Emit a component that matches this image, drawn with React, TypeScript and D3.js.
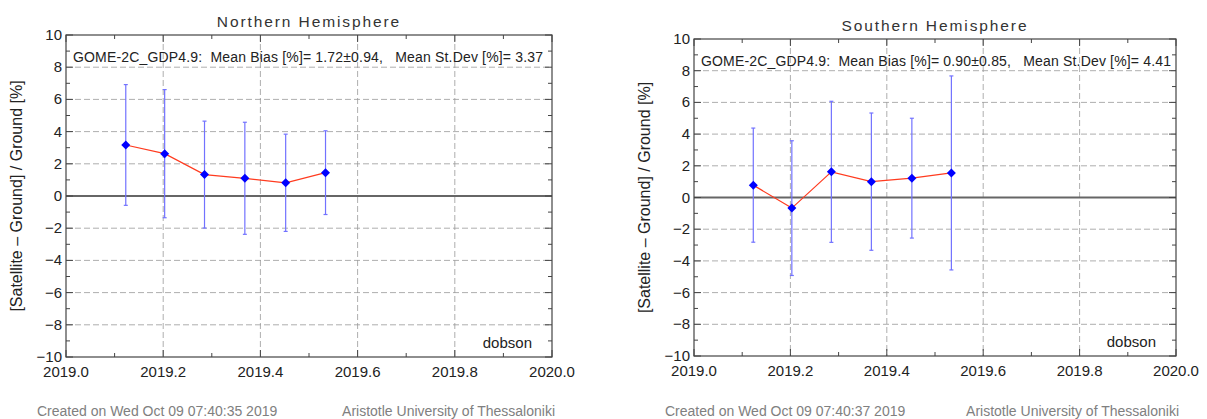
import React from 'react';
import * as d3 from 'd3';

// Monthly mean dates (decimal years)
const dates = [2019.123, 2019.203, 2019.285, 2019.368, 2019.452, 2019.534];

// Northern hemisphere: mean bias and 1-sigma per month
const northBias = [3.17, 2.63, 1.33, 1.1, 0.82, 1.45];
const northStd = [3.75, 3.98, 3.32, 3.48, 3.02, 2.6];

// Southern hemisphere
const southBias = [0.78, -0.67, 1.62, 1.0, 1.22, 1.55];
const southStd = [3.6, 4.25, 4.45, 4.33, 3.78, 6.12];

const xTicks = [2019.0, 2019.2, 2019.4, 2019.6, 2019.8, 2020.0];
const xMinor = [2019.1, 2019.3, 2019.5, 2019.7, 2019.9];
const yTicks = [-10, -8, -6, -4, -2, 0, 2, 4, 6, 8, 10];
const yMinor = [-9, -7, -5, -3, -1, 1, 3, 5, 7, 9];

const FONT = 'Liberation Sans, Arial, Helvetica, sans-serif';

interface PanelProps {
  title: string;
  stats: string;
  created: string;
  bias: number[];
  std: number[];
  box: { left: number; top: number; right: number; bottom: number };
}

const Panel: React.FC<PanelProps> = ({ title, stats, created, bias, std, box }) => {
  const x = d3.scaleLinear().domain([2019.0, 2020.0]).range([box.left, box.right]);
  const y = d3.scaleLinear().domain([-10, 10]).range([box.bottom, box.top]);
  const pts = dates.map((d, i) => ({ d, v: bias[i], s: std[i] }));
  const line = d3.line<{ d: number; v: number }>().x(p => x(p.d)).y(p => y(p.v));
  const cx = (box.left + box.right) / 2;
  const cy = (box.top + box.bottom) / 2;

  return (
    <g fontFamily={FONT}>
      <text x={cx} y={box.top - 8} textAnchor="middle" fontSize={15.5} fill="#333" letterSpacing={1.9}>
        {title}
      </text>

      {/* grid */}
      {xTicks.slice(1, -1).map(t => (
        <line key={'gx' + t} x1={x(t)} x2={x(t)} y1={box.top} y2={box.bottom}
          stroke="#999" strokeWidth={0.8} strokeDasharray="6,3" />
      ))}
      {yTicks.slice(1, -1).filter(t => t !== 0).map(t => (
        <line key={'gy' + t} x1={box.left} x2={box.right} y1={y(t)} y2={y(t)}
          stroke="#999" strokeWidth={0.8} strokeDasharray="6,3" />
      ))}
      <line x1={box.left} x2={box.right} y1={y(0)} y2={y(0)} stroke="#666" strokeWidth={2} />

      {/* ticks on all sides */}
      {xTicks.map(t => (
        <g key={'tx' + t} stroke="#444" strokeWidth={1}>
          <line x1={x(t)} x2={x(t)} y1={box.bottom} y2={box.bottom - 7} />
          <line x1={x(t)} x2={x(t)} y1={box.top} y2={box.top + 7} />
        </g>
      ))}
      {xMinor.map(t => (
        <g key={'mx' + t} stroke="#444" strokeWidth={1}>
          <line x1={x(t)} x2={x(t)} y1={box.bottom} y2={box.bottom - 4} />
          <line x1={x(t)} x2={x(t)} y1={box.top} y2={box.top + 4} />
        </g>
      ))}
      {yTicks.map(t => (
        <g key={'ty' + t} stroke="#444" strokeWidth={1}>
          <line x1={box.left} x2={box.left + 7} y1={y(t)} y2={y(t)} />
          <line x1={box.right} x2={box.right - 7} y1={y(t)} y2={y(t)} />
        </g>
      ))}
      {yMinor.map(t => (
        <g key={'my' + t} stroke="#444" strokeWidth={1}>
          <line x1={box.left} x2={box.left + 4} y1={y(t)} y2={y(t)} />
          <line x1={box.right} x2={box.right - 4} y1={y(t)} y2={y(t)} />
        </g>
      ))}
      <rect x={box.left} y={box.top} width={box.right - box.left} height={box.bottom - box.top}
        fill="none" stroke="#444" strokeWidth={1.2} />

      {/* tick labels */}
      {xTicks.map(t => (
        <text key={'lx' + t} x={x(t)} y={box.bottom + 20} textAnchor="middle" fontSize={15} fill="#222">
          {t.toFixed(1)}
        </text>
      ))}
      {yTicks.map(t => (
        <text key={'ly' + t} x={box.left - 4} y={y(t) + 5} textAnchor="end" fontSize={15} fill="#222">
          {t < 0 ? '\u2212' + Math.abs(t) : t}
        </text>
      ))}
      <text transform={`translate(${box.left - 44},${cy}) rotate(-90)`} textAnchor="middle" fontSize={16} fill="#222">
        [Satellite – Ground] / Ground [%]
      </text>

      {/* error bars */}
      {pts.map(p => (
        <g key={'e' + p.d} stroke="#7272ff" strokeWidth={1.2}>
          <line x1={x(p.d)} x2={x(p.d)} y1={y(p.v + p.s)} y2={y(p.v - p.s)} />
          <line x1={x(p.d) - 2} x2={x(p.d) + 2} y1={y(p.v + p.s)} y2={y(p.v + p.s)} />
          <line x1={x(p.d) - 2} x2={x(p.d) + 2} y1={y(p.v - p.s)} y2={y(p.v - p.s)} />
        </g>
      ))}
      <path d={line(pts) || ''} fill="none" stroke="#ff3b1f" strokeWidth={1.2} />
      {pts.map(p => (
        <path key={'m' + p.d} transform={`translate(${x(p.d)},${y(p.v)})`}
          d="M0,-4.5L4.5,0L0,4.5L-4.5,0Z" fill="#0000ff" />
      ))}

      <text x={box.left + 7} y={box.top + 27} fontSize={14} fill="#222" textLength={470} lengthAdjust="spacing"
        style={{ whiteSpace: 'pre' }}>
        {stats}
      </text>
      <text x={box.right - 20} y={box.bottom - 9} textAnchor="end" fontSize={15} fill="#222">dobson</text>

      <text x={box.left - 29} y={416} fontSize={14} fill="#808080">{created}</text>
      <text x={box.right + 3} y={416} textAnchor="end" fontSize={14} fill="#808080">
        Aristotle University of Thessaloniki
      </text>
    </g>
  );
};

export default function App() {
  return (
    <svg width={1207} height={419} style={{ position: 'absolute', left: 0, top: 0, background: '#fff' }}>
      <rect width={1207} height={419} fill="#fff" />
      <Panel
        title="Northern Hemisphere"
        stats={'GOME-2C_GDP4.9:  Mean Bias [%]= 1.72\u00b10.94,   Mean St.Dev [%]= 3.37'}
        created="Created on Wed Oct 09 07:40:35 2019"
        bias={northBias}
        std={northStd}
        box={{ left: 66, top: 35, right: 552, bottom: 357 }}
      />
      <Panel
        title="Southern Hemisphere"
        stats={'GOME-2C_GDP4.9:  Mean Bias [%]= 0.90\u00b10.85,   Mean St.Dev [%]= 4.41'}
        created="Created on Wed Oct 09 07:40:37 2019"
        bias={southBias}
        std={southStd}
        box={{ left: 694, top: 39, right: 1176, bottom: 356 }}
      />
    </svg>
  );
}
